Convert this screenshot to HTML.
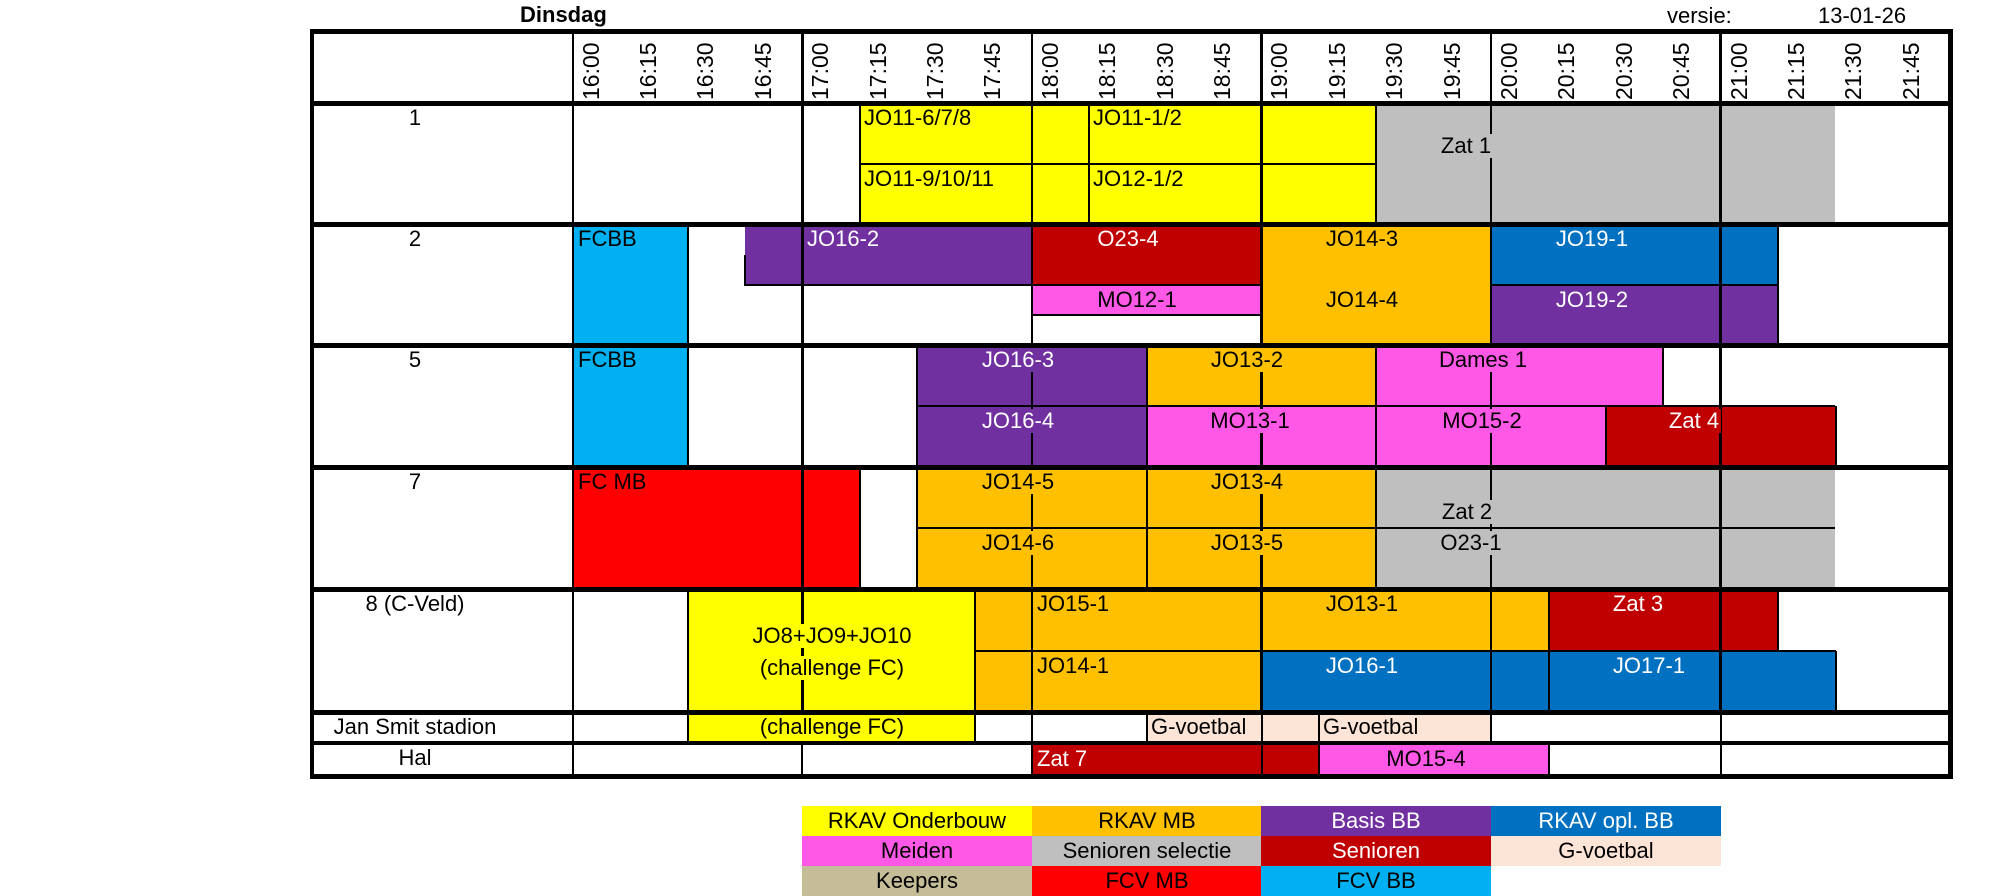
<!DOCTYPE html>
<html><head><meta charset="utf-8">
<style>
*{margin:0;padding:0;box-sizing:border-box}
body{width:2000px;height:896px;background:#fff;position:relative;overflow:hidden;font-family:"Liberation Sans",Arial,sans-serif;font-size:22px;color:#000}
div{position:absolute}
.k{background:#000}
.t{white-space:nowrap;line-height:24px;padding:0 2px}
.c{transform:translateX(-50%)}
.w{color:#fff}
.hd{writing-mode:vertical-rl;transform:rotate(180deg);top:34px;height:66px;width:26px;line-height:26px;font-size:23px;white-space:nowrap}
.lg{height:30px;width:230px;text-align:center;line-height:30px;font-size:22px}
.Y{background:#FFFF00}.O{background:#FFC000}.P{background:#7030A0}.B{background:#0070C0}
.M{background:#FF57E6}.G{background:#BFBFBF}.D{background:#C00000}.E{background:#FCE4D6}
.K{background:#C4BD97}.R{background:#FF0000}.C{background:#00B0F0}
</style></head><body>

<div class="t" style="left:518px;top:3px;font-weight:bold">Dinsdag</div>
<div class="t" style="left:1665px;top:4px">versie:</div>
<div class="t" style="left:1816px;top:4px">13-01-26</div>

<div class="Y" style="left:859.7px;top:103px;width:516.6px;height:121px"></div>
<div class="G" style="left:1376.3px;top:103px;width:459.2px;height:121px"></div>
<div class="C" style="left:572.7px;top:224px;width:114.8px;height:121px"></div>
<div class="P" style="left:744.9px;top:224px;width:287px;height:61px"></div>
<div class="D" style="left:1031.9px;top:224px;width:229.6px;height:61px"></div>
<div class="M" style="left:1031.9px;top:285px;width:229.6px;height:30px"></div>
<div class="O" style="left:1261.5px;top:224px;width:229.6px;height:121px"></div>
<div class="B" style="left:1491.1px;top:224px;width:287px;height:61px"></div>
<div class="P" style="left:1491.1px;top:285px;width:287px;height:60px"></div>
<div class="C" style="left:572.7px;top:345px;width:114.8px;height:122px"></div>
<div class="P" style="left:917.1px;top:345px;width:229.6px;height:122px"></div>
<div class="O" style="left:1146.7px;top:345px;width:229.6px;height:61px"></div>
<div class="M" style="left:1146.7px;top:406px;width:229.6px;height:61px"></div>
<div class="M" style="left:1376.3px;top:345px;width:287px;height:61px"></div>
<div class="M" style="left:1376.3px;top:406px;width:229.6px;height:61px"></div>
<div class="D" style="left:1605.9px;top:406px;width:229.6px;height:61px"></div>
<div class="R" style="left:572.7px;top:467px;width:287px;height:122px"></div>
<div class="O" style="left:917.1px;top:467px;width:459.2px;height:122px"></div>
<div class="G" style="left:1376.3px;top:467px;width:459.2px;height:122px"></div>
<div class="Y" style="left:687.5px;top:589px;width:287px;height:123px"></div>
<div class="O" style="left:974.5px;top:589px;width:574px;height:62px"></div>
<div class="D" style="left:1548.5px;top:589px;width:229.6px;height:62px"></div>
<div class="O" style="left:974.5px;top:651px;width:287px;height:61px"></div>
<div class="B" style="left:1261.5px;top:651px;width:574px;height:61px"></div>
<div class="Y" style="left:687.5px;top:712px;width:287px;height:31px"></div>
<div class="E" style="left:1146.7px;top:712px;width:344.4px;height:31px"></div>
<div class="D" style="left:1031.9px;top:743px;width:287px;height:33px"></div>
<div class="M" style="left:1318.9px;top:743px;width:229.6px;height:33px"></div>

<div class="k" style="left:571.5px;top:31px;width:2.5px;height:745px"></div>
<div class="k" style="left:801px;top:31px;width:2.5px;height:681px"></div>
<div class="k" style="left:1030.6px;top:31px;width:2.5px;height:681px"></div>
<div class="k" style="left:1260.2px;top:31px;width:2.5px;height:681px"></div>
<div class="k" style="left:1489.8px;top:31px;width:2.5px;height:681px"></div>
<div class="k" style="left:1719.4px;top:31px;width:2.5px;height:681px"></div>

<div class="k" style="left:859.7px;top:162.5px;width:516.6px;height:2px"></div>
<div class="k" style="left:858.7px;top:103px;width:2px;height:121px"></div>
<div class="k" style="left:1088.3px;top:103px;width:2px;height:121px"></div>
<div class="k" style="left:1375.3px;top:103px;width:2px;height:121px"></div>
<div class="k" style="left:686.5px;top:224px;width:2px;height:121px"></div>
<div class="k" style="left:743.9px;top:255px;width:2px;height:31px"></div>
<div class="k" style="left:743.9px;top:284px;width:288px;height:2px"></div>
<div class="k" style="left:1031.9px;top:284px;width:229.6px;height:2px"></div>
<div class="k" style="left:1031.9px;top:314px;width:229.6px;height:2px"></div>
<div class="k" style="left:1491.1px;top:284px;width:287px;height:2px"></div>
<div class="k" style="left:1777.1px;top:224px;width:2px;height:121px"></div>
<div class="k" style="left:686.5px;top:345px;width:2px;height:122px"></div>
<div class="k" style="left:916.1px;top:345px;width:2px;height:122px"></div>
<div class="k" style="left:1145.7px;top:345px;width:2px;height:122px"></div>
<div class="k" style="left:1375.3px;top:345px;width:2px;height:122px"></div>
<div class="k" style="left:917.1px;top:405px;width:918.4px;height:2px"></div>
<div class="k" style="left:1662.3px;top:345px;width:2px;height:61px"></div>
<div class="k" style="left:1604.9px;top:406px;width:2px;height:61px"></div>
<div class="k" style="left:1834.5px;top:406px;width:2px;height:61px"></div>
<div class="k" style="left:858.7px;top:467px;width:2px;height:122px"></div>
<div class="k" style="left:916.1px;top:467px;width:2px;height:122px"></div>
<div class="k" style="left:1145.7px;top:467px;width:2px;height:122px"></div>
<div class="k" style="left:1375.3px;top:467px;width:2px;height:122px"></div>
<div class="k" style="left:917.1px;top:527px;width:918.4px;height:2px"></div>
<div class="k" style="left:686.5px;top:589px;width:2px;height:123px"></div>
<div class="k" style="left:973.5px;top:589px;width:2px;height:123px"></div>
<div class="k" style="left:974.5px;top:650px;width:861px;height:2px"></div>
<div class="k" style="left:1547.5px;top:589px;width:2px;height:123px"></div>
<div class="k" style="left:1777.1px;top:589px;width:2px;height:62px"></div>
<div class="k" style="left:1834.5px;top:651px;width:2px;height:61px"></div>
<div class="k" style="left:686.5px;top:712px;width:2px;height:31px"></div>
<div class="k" style="left:973.5px;top:712px;width:2px;height:31px"></div>
<div class="k" style="left:1030.9px;top:712px;width:2px;height:31px"></div>
<div class="k" style="left:1145.7px;top:712px;width:2px;height:31px"></div>
<div class="k" style="left:1260.5px;top:712px;width:2px;height:31px"></div>
<div class="k" style="left:1317.9px;top:712px;width:2px;height:31px"></div>
<div class="k" style="left:1490.1px;top:712px;width:2px;height:31px"></div>
<div class="k" style="left:1719.7px;top:712px;width:2px;height:31px"></div>
<div class="k" style="left:801.3px;top:743px;width:2px;height:33px"></div>
<div class="k" style="left:1030.9px;top:743px;width:2px;height:33px"></div>
<div class="k" style="left:1260.5px;top:743px;width:2px;height:33px"></div>
<div class="k" style="left:1317.9px;top:743px;width:2px;height:33px"></div>
<div class="k" style="left:1547.5px;top:743px;width:2px;height:33px"></div>
<div class="k" style="left:1719.7px;top:743px;width:2px;height:33px"></div>

<div class="k" style="left:310px;top:29px;width:1643px;height:5px"></div>
<div class="k" style="left:310px;top:101px;width:1643px;height:5px"></div>
<div class="k" style="left:310px;top:222px;width:1643px;height:5px"></div>
<div class="k" style="left:310px;top:343px;width:1643px;height:5px"></div>
<div class="k" style="left:310px;top:465px;width:1643px;height:5px"></div>
<div class="k" style="left:310px;top:587px;width:1643px;height:5px"></div>
<div class="k" style="left:310px;top:710px;width:1643px;height:5px"></div>
<div class="k" style="left:310px;top:741px;width:1643px;height:4px"></div>
<div class="k" style="left:310px;top:774px;width:1643px;height:5px"></div>
<div class="k" style="left:310px;top:29px;width:4px;height:750px"></div>
<div class="k" style="left:1948px;top:29px;width:5px;height:750px"></div>

<div class="hd" style="left:578px">16:00</div>
<div class="hd" style="left:635px">16:15</div>
<div class="hd" style="left:692px">16:30</div>
<div class="hd" style="left:750px">16:45</div>
<div class="hd" style="left:807px">17:00</div>
<div class="hd" style="left:865px">17:15</div>
<div class="hd" style="left:922px">17:30</div>
<div class="hd" style="left:979px">17:45</div>
<div class="hd" style="left:1037px">18:00</div>
<div class="hd" style="left:1094px">18:15</div>
<div class="hd" style="left:1152px">18:30</div>
<div class="hd" style="left:1209px">18:45</div>
<div class="hd" style="left:1266px">19:00</div>
<div class="hd" style="left:1324px">19:15</div>
<div class="hd" style="left:1381px">19:30</div>
<div class="hd" style="left:1439px">19:45</div>
<div class="hd" style="left:1496px">20:00</div>
<div class="hd" style="left:1553px">20:15</div>
<div class="hd" style="left:1611px">20:30</div>
<div class="hd" style="left:1668px">20:45</div>
<div class="hd" style="left:1726px">21:00</div>
<div class="hd" style="left:1783px">21:15</div>
<div class="hd" style="left:1840px">21:30</div>
<div class="hd" style="left:1898px">21:45</div>

<div class="t c" style="left:415px;top:106px">1</div>
<div class="t c" style="left:415px;top:227px">2</div>
<div class="t c" style="left:415px;top:348px">5</div>
<div class="t c" style="left:415px;top:470px">7</div>
<div class="t c" style="left:415px;top:592px">8 (C-Veld)</div>
<div class="t c" style="left:415px;top:715px">Jan Smit stadion</div>
<div class="t c" style="left:415px;top:746px">Hal</div>

<div class="t" style="left:862px;top:106px">JO11-6/7/8</div>
<div class="t" style="left:1091px;top:106px">JO11-1/2</div>
<div class="t" style="left:862px;top:167px">JO11-9/10/11</div>
<div class="t" style="left:1091px;top:167px">JO12-1/2</div>
<div class="t c G" style="left:1466px;top:134px">Zat 1</div>

<div class="t" style="left:576px;top:227px">FCBB</div>
<div class="t w" style="left:805px;top:227px">JO16-2</div>
<div class="t w c D" style="left:1128px;top:227px">O23-4</div>
<div class="t c" style="left:1137px;top:288px">MO12-1</div>
<div class="t c O" style="left:1362px;top:227px">JO14-3</div>
<div class="t c O" style="left:1362px;top:288px">JO14-4</div>
<div class="t w c B" style="left:1592px;top:227px">JO19-1</div>
<div class="t w c P" style="left:1592px;top:288px">JO19-2</div>

<div class="t" style="left:576px;top:348px">FCBB</div>
<div class="t w c P" style="left:1018px;top:348px">JO16-3</div>
<div class="t c O" style="left:1247px;top:348px">JO13-2</div>
<div class="t c M" style="left:1483px;top:348px">Dames 1</div>
<div class="t w c P" style="left:1018px;top:409px">JO16-4</div>
<div class="t c M" style="left:1250px;top:409px">MO13-1</div>
<div class="t c M" style="left:1482px;top:409px">MO15-2</div>
<div class="t w c D" style="left:1694px;top:409px">Zat 4</div>

<div class="t" style="left:576px;top:470px">FC MB</div>
<div class="t c O" style="left:1018px;top:470px">JO14-5</div>
<div class="t c O" style="left:1247px;top:470px">JO13-4</div>
<div class="t c G" style="left:1467px;top:500px">Zat 2</div>
<div class="t c O" style="left:1018px;top:531px">JO14-6</div>
<div class="t c O" style="left:1247px;top:531px">JO13-5</div>
<div class="t c G" style="left:1471px;top:531px">O23-1</div>

<div class="t c Y" style="left:832px;top:624px">JO8+JO9+JO10</div>
<div class="t c Y" style="left:832px;top:656px">(challenge FC)</div>
<div class="t" style="left:1035px;top:592px">JO15-1</div>
<div class="t c O" style="left:1362px;top:592px">JO13-1</div>
<div class="t w c D" style="left:1638px;top:592px">Zat 3</div>
<div class="t" style="left:1035px;top:654px">JO14-1</div>
<div class="t w c B" style="left:1362px;top:654px">JO16-1</div>
<div class="t w c B" style="left:1649px;top:654px">JO17-1</div>

<div class="t c Y" style="left:832px;top:715px">(challenge FC)</div>
<div class="t" style="left:1149px;top:715px">G-voetbal</div>
<div class="t" style="left:1321px;top:715px">G-voetbal</div>
<div class="t w" style="left:1035px;top:747px">Zat 7</div>
<div class="t c M" style="left:1426px;top:747px">MO15-4</div>

<div class="lg Y" style="left:802px;top:806px">RKAV Onderbouw</div>
<div class="lg O" style="left:1032px;top:806px">RKAV MB</div>
<div class="lg P w" style="left:1261px;top:806px">Basis BB</div>
<div class="lg B w" style="left:1491px;top:806px">RKAV opl. BB</div>
<div class="lg M" style="left:802px;top:836px">Meiden</div>
<div class="lg G" style="left:1032px;top:836px">Senioren selectie</div>
<div class="lg D w" style="left:1261px;top:836px">Senioren</div>
<div class="lg E" style="left:1491px;top:836px">G-voetbal</div>
<div class="lg K" style="left:802px;top:866px">Keepers</div>
<div class="lg R" style="left:1032px;top:866px">FCV MB</div>
<div class="lg C" style="left:1261px;top:866px">FCV BB</div>
</body></html>
